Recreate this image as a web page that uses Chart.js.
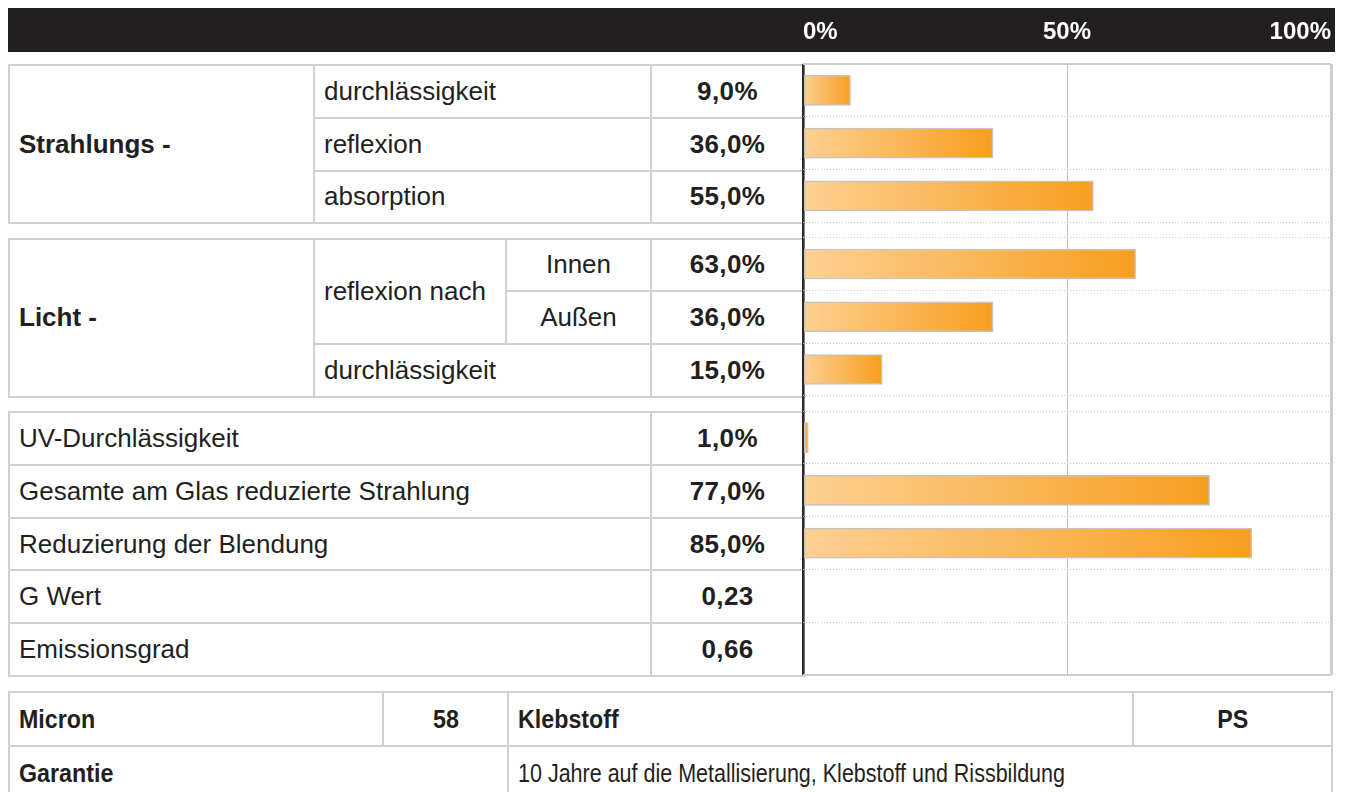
<!DOCTYPE html>
<html>
<head>
<meta charset="utf-8">
<script src="https://cdn.jsdelivr.net/npm/chart.js@4"></script>
<style>
  body { margin: 0; width: 1345px; height: 792px; background: #fff; overflow: hidden; position: relative;
         font-family: "Liberation Sans", Arial, Helvetica, sans-serif; color: #231f20; }
  #hdr { position: absolute; left: 8px; top: 8px; width: 1327px; height: 44px; background: #231f20; }
  .t { position: absolute; left: 8px; width: 795px; border-collapse: collapse; table-layout: fixed; }
  .t td { border: 2px solid #d0d0d0; padding: 0 0 0 9px; font-size: 26px; white-space: nowrap; box-sizing: border-box; }
  .t td.b { font-weight: bold; }
  .t td.c { text-align: center; padding: 0; }
  .t td.v { text-align: center; padding: 0; font-weight: bold; letter-spacing: 0.4px; }
  #bottom { position: absolute; left: 8px; top: 691px; width: 1323px; border-collapse: collapse; table-layout: fixed; }
  #bottom td { border: 2px solid #d0d0d0; height: 52px; padding: 0 0 0 9px; font-size: 25px; white-space: nowrap; }
  #bottom td span { display: inline-block; transform: scaleX(0.86); transform-origin: left center; }
  #bottom td.b span, #bottom td.c span { transform: scaleX(0.93); }
  #bottom td.b { font-weight: bold; }
  #bottom td.c { text-align: center; padding: 0; font-weight: bold; }
  #bottom td.c span { transform-origin: center center; }
  #chart { position: absolute; left: 786px; top: 0; }
</style>
</head>
<body>
<div id="hdr"></div>

<table class="t" id="g0">
  <colgroup><col style="width:305px"><col style="width:192px"><col style="width:145px"><col style="width:153px"></colgroup>
  <tr><td rowspan="3" class="b grp"></td><td colspan="2" class="l"></td><td class="v"></td></tr>
  <tr><td colspan="2" class="l"></td><td class="v"></td></tr>
  <tr><td colspan="2" class="l"></td><td class="v"></td></tr>
</table>

<table class="t" id="g1">
  <colgroup><col style="width:305px"><col style="width:192px"><col style="width:145px"><col style="width:153px"></colgroup>
  <tr><td rowspan="3" class="b grp"></td><td rowspan="2">reflexion nach</td><td class="l c"></td><td class="v"></td></tr>
  <tr><td class="l c"></td><td class="v"></td></tr>
  <tr><td colspan="2" class="l"></td><td class="v"></td></tr>
</table>

<table class="t" id="g2">
  <colgroup><col style="width:305px"><col style="width:192px"><col style="width:145px"><col style="width:153px"></colgroup>
  <tr><td colspan="3" class="l"></td><td class="v"></td></tr>
  <tr><td colspan="3" class="l"></td><td class="v"></td></tr>
  <tr><td colspan="3" class="l"></td><td class="v"></td></tr>
  <tr><td colspan="3" class="l"></td><td class="v"></td></tr>
  <tr><td colspan="3" class="l"></td><td class="v"></td></tr>
</table>

<table id="bottom">
  <colgroup><col style="width:374px"><col style="width:125px"><col style="width:625px"><col style="width:199px"></colgroup>
  <tr><td class="b"><span>Micron</span></td><td class="c"><span>58</span></td><td class="b"><span>Klebstoff</span></td><td class="c"><span>PS</span></td></tr>
  <tr><td class="b" colspan="2"><span>Garantie</span></td><td colspan="2"><span>10 Jahre auf die Metallisierung, Klebstoff und Rissbildung</span></td></tr>
</table>

<canvas id="chart" width="562" height="700"></canvas>

<script>
// Daten
const groupLabels = ['Strahlungs -', 'Licht -', ''];
const rowGroup = [0, 0, 0, 1, 1, 1, 2, 2, 2, 2, 2];
const rowLabels = ['durchlässigkeit', 'reflexion', 'absorption',
                   'Innen', 'Außen', 'durchlässigkeit',
                   'UV-Durchlässigkeit', 'Gesamte am Glas reduzierte Strahlung',
                   'Reduzierung der Blendung', 'G Wert', 'Emissionsgrad'];
const values = [9, 36, 55, 63, 36, 15, 1, 77, 85, null, null];
const valueLabels = ['9,0%', '36,0%', '55,0%', '63,0%', '36,0%', '15,0%',
                     '1,0%', '77,0%', '85,0%', '0,23', '0,66'];
const xTicks = [0, 50, 100];

// Abstand zwischen den Gruppen (in Zeilenhöhen)
const GAP = 0.29;
const rowPos = rowGroup.map((g, i) => i + g * GAP);        // obere Kante jeder Zeile
const total = rowLabels.length + (groupLabels.length - 1) * GAP;

// Gitterlinien an den Zeilengrenzen
const bounds = [];
rowPos.forEach((p, i) => {
    if (i === 0 || rowGroup[i] !== rowGroup[i - 1]) bounds.push(p);
    bounds.push(p + 1);
});

// Tabellentexte füllen
document.querySelectorAll('.grp').forEach((td, i) => td.textContent = groupLabels[i]);
document.querySelectorAll('.t .l').forEach((td, i) => td.textContent = rowLabels[i]);
document.querySelectorAll('.t .v').forEach((td, i) => td.textContent = valueLabels[i]);

const points = [];
values.forEach((v, i) => { if (v !== null) points.push({ x: v, y: rowPos[i] + 0.5 }); });

function barFill(c) {
    const chart = c.chart;
    const xs = chart.scales.x;
    if (!xs || !c.raw) return '#f7a024';
    const x0 = xs.getPixelForValue(0);
    const x1 = xs.getPixelForValue(c.raw.x);
    if (!isFinite(x0) || !isFinite(x1) || x1 <= x0) return '#f7a024';
    const g = chart.ctx.createLinearGradient(x0, 0, x1, 0);
    g.addColorStop(0, '#fdd092');
    g.addColorStop(1, '#f79e1f');
    return g;
}

const tv = c => (c && c.tick) ? c.tick.value : null;
const isEdge = v => v !== null && (Math.abs(v) < 1e-6 || Math.abs(v - total) < 1e-6);

const chart = new Chart(document.getElementById('chart').getContext('2d'), {
    type: 'bar',
    data: {
        datasets: [{
            data: points,
            backgroundColor: barFill,
            borderColor: '#c9c3bb',
            borderWidth: 1.5,
            borderSkipped: false,
            barThickness: 30
        }]
    },
    options: {
        indexAxis: 'y',
        responsive: false,
        animation: false,
        layout: { padding: { left: 0, right: 0, top: 0, bottom: 25 } },
        plugins: { legend: { display: false }, tooltip: { enabled: false } },
        scales: {
            x: {
                type: 'linear',
                position: 'top',
                min: 0,
                max: 100,
                afterBuildTicks: s => { s.ticks = xTicks.map(v => ({ value: v })); },
                afterFit: s => { s.height = 64; },
                ticks: {
                    color: '#ffffff',
                    align: 'inner',
                    padding: 17,
                    maxRotation: 0,
                    font: { family: '"Liberation Sans", Arial, sans-serif', size: 24, weight: 'bold' },
                    callback: v => v + '%'
                },
                grid: {
                    drawTicks: false,
                    color: c => tv(c) === 0 ? '#2a2a2a' : (tv(c) === 100 ? '#cdcdcd' : '#c2c2c2'),
                    lineWidth: c => tv(c) === 0 ? 2.5 : (tv(c) === 100 ? 3 : 1)
                },
                border: { display: false }
            },
            y: {
                type: 'linear',
                reverse: true,
                offset: false,
                min: 0,
                max: total,
                afterBuildTicks: s => { s.ticks = bounds.map(v => ({ value: v })); },
                afterFit: s => { s.width = 0; },
                ticks: { display: false },
                grid: {
                    offset: false,
                    drawTicks: false,
                    color: c => isEdge(tv(c)) ? '#cdcdcd' : '#c8c8c8',
                    lineWidth: c => isEdge(tv(c)) ? 2 : 1
                },
                border: {
                    display: false,
                    dash: c => isEdge(tv(c)) ? [] : [1, 2]
                }
            }
        }
    }
});

// Tabellen an die Zeilen des Diagramms anpassen
const ys = chart.scales.y;
const unit = ys.getPixelForValue(1) - ys.getPixelForValue(0);
groupLabels.forEach((g, gi) => {
    const first = rowGroup.indexOf(gi);
    const tbl = document.getElementById('g' + gi);
    tbl.style.top = ys.getPixelForValue(rowPos[first]) + 'px';
    tbl.querySelectorAll('tr').forEach(tr => tr.style.height = unit + 'px');
});
</script>
</body>
</html>
